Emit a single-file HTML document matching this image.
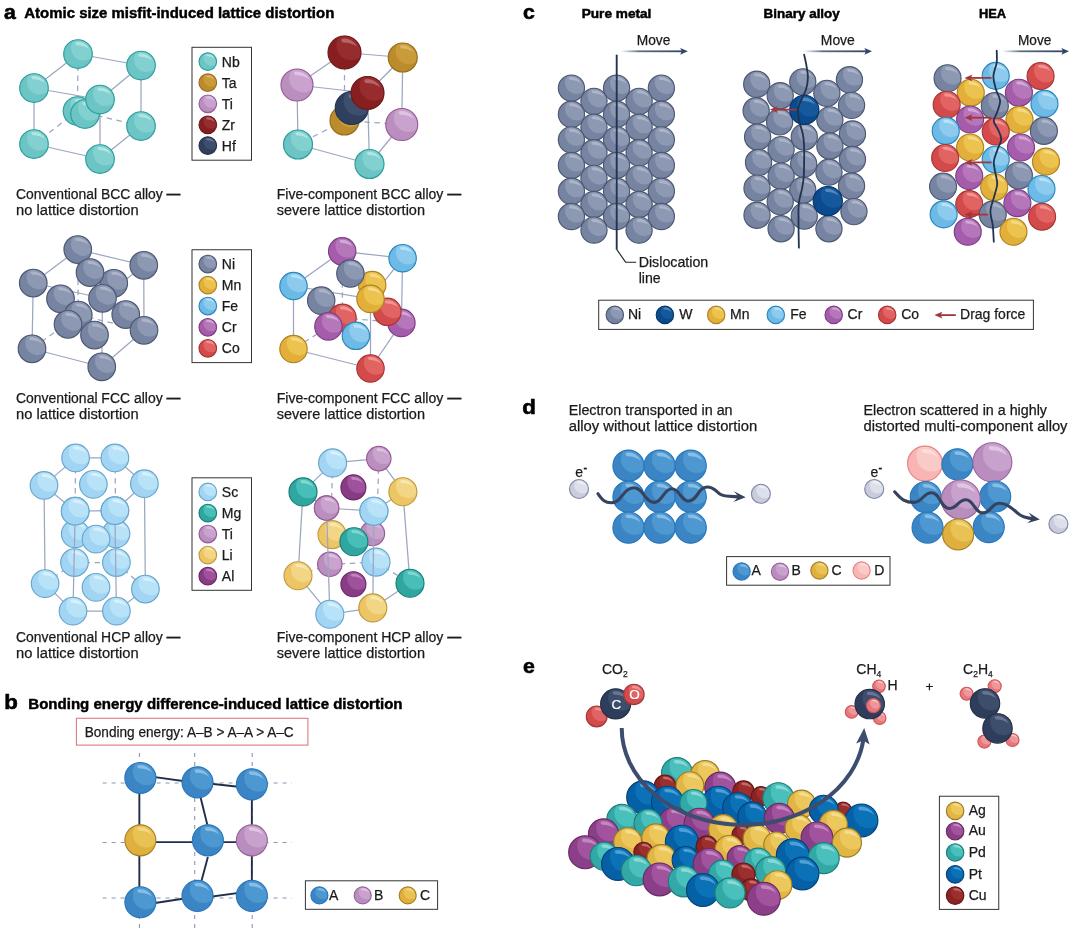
<!DOCTYPE html>
<html lang="en"><head><meta charset="utf-8"><title>Lattice distortion in high-entropy alloys</title>
<style>
html,body{margin:0;padding:0;background:#fff}
svg{display:block;font-family:"Liberation Sans",sans-serif}
</style></head><body>
<svg width="1080" height="931" viewBox="0 0 1080 931">
<defs>
<g id="aNb"><circle r="1" fill="#6CC4C4"/><path d="M-0.312 -0.950 A1 1 0 0 1 0.970 0.243 A0.880 0.880 0 0 1 -0.312 -0.950 Z" fill="#82D0CF"/><path d="M-0.160 -0.825 A0.84 0.84 0 0 1 0.767 -0.342 Q0.420 -0.620 -0.094 -0.613 Q-0.250 -0.709 -0.160 -0.825 Z" fill="#C5ECEA" opacity=".7"/><circle r="1" fill="none" stroke="#2A9E9E" stroke-width="1.15" vector-effect="non-scaling-stroke"/></g>
<g id="aTa"><circle r="1" fill="#BC8B2C"/><path d="M-0.312 -0.950 A1 1 0 0 1 0.970 0.243 A0.880 0.880 0 0 1 -0.312 -0.950 Z" fill="#C99B3B"/><path d="M-0.160 -0.825 A0.84 0.84 0 0 1 0.767 -0.342 Q0.420 -0.620 -0.094 -0.613 Q-0.250 -0.709 -0.160 -0.825 Z" fill="#E3C27E" opacity=".7"/><circle r="1" fill="none" stroke="#986C1B" stroke-width="1.15" vector-effect="non-scaling-stroke"/></g>
<g id="aTi"><circle r="1" fill="#BA8FBF"/><path d="M-0.312 -0.950 A1 1 0 0 1 0.970 0.243 A0.880 0.880 0 0 1 -0.312 -0.950 Z" fill="#C9A3CE"/><path d="M-0.160 -0.825 A0.84 0.84 0 0 1 0.767 -0.342 Q0.420 -0.620 -0.094 -0.613 Q-0.250 -0.709 -0.160 -0.825 Z" fill="#E6D2E8" opacity=".7"/><circle r="1" fill="none" stroke="#975A97" stroke-width="1.15" vector-effect="non-scaling-stroke"/></g>
<g id="aZr"><circle r="1" fill="#871F21"/><path d="M-0.312 -0.950 A1 1 0 0 1 0.970 0.243 A0.880 0.880 0 0 1 -0.312 -0.950 Z" fill="#972C2E"/><path d="M-0.160 -0.825 A0.84 0.84 0 0 1 0.767 -0.342 Q0.420 -0.620 -0.094 -0.613 Q-0.250 -0.709 -0.160 -0.825 Z" fill="#C57C7D" opacity=".7"/><circle r="1" fill="none" stroke="#6D181A" stroke-width="1.15" vector-effect="non-scaling-stroke"/></g>
<g id="aHf"><circle r="1" fill="#2F3F5E"/><path d="M-0.312 -0.950 A1 1 0 0 1 0.970 0.243 A0.880 0.880 0 0 1 -0.312 -0.950 Z" fill="#3E4F6E"/><path d="M-0.160 -0.825 A0.84 0.84 0 0 1 0.767 -0.342 Q0.420 -0.620 -0.094 -0.613 Q-0.250 -0.709 -0.160 -0.825 Z" fill="#7D8AA3" opacity=".7"/><circle r="1" fill="none" stroke="#25324C" stroke-width="1.15" vector-effect="non-scaling-stroke"/></g>
<g id="aNi"><circle r="1" fill="#7784A1"/><path d="M-0.312 -0.950 A1 1 0 0 1 0.970 0.243 A0.880 0.880 0 0 1 -0.312 -0.950 Z" fill="#8D98B3"/><path d="M-0.160 -0.825 A0.84 0.84 0 0 1 0.767 -0.342 Q0.420 -0.620 -0.094 -0.613 Q-0.250 -0.709 -0.160 -0.825 Z" fill="#B9C0D2" opacity=".7"/><circle r="1" fill="none" stroke="#4C5872" stroke-width="1.15" vector-effect="non-scaling-stroke"/></g>
<g id="aMn"><circle r="1" fill="#E2B03A"/><path d="M-0.312 -0.950 A1 1 0 0 1 0.970 0.243 A0.880 0.880 0 0 1 -0.312 -0.950 Z" fill="#EDC350"/><path d="M-0.160 -0.825 A0.84 0.84 0 0 1 0.767 -0.342 Q0.420 -0.620 -0.094 -0.613 Q-0.250 -0.709 -0.160 -0.825 Z" fill="#F8E2A0" opacity=".7"/><circle r="1" fill="none" stroke="#AE8325" stroke-width="1.15" vector-effect="non-scaling-stroke"/></g>
<g id="aFe"><circle r="1" fill="#6DBAE6"/><path d="M-0.312 -0.950 A1 1 0 0 1 0.970 0.243 A0.880 0.880 0 0 1 -0.312 -0.950 Z" fill="#8CCBEE"/><path d="M-0.160 -0.825 A0.84 0.84 0 0 1 0.767 -0.342 Q0.420 -0.620 -0.094 -0.613 Q-0.250 -0.709 -0.160 -0.825 Z" fill="#CDEAF9" opacity=".7"/><circle r="1" fill="none" stroke="#2987BD" stroke-width="1.15" vector-effect="non-scaling-stroke"/></g>
<g id="aCr"><circle r="1" fill="#A55CAB"/><path d="M-0.312 -0.950 A1 1 0 0 1 0.970 0.243 A0.880 0.880 0 0 1 -0.312 -0.950 Z" fill="#B577BA"/><path d="M-0.160 -0.825 A0.84 0.84 0 0 1 0.767 -0.342 Q0.420 -0.620 -0.094 -0.613 Q-0.250 -0.709 -0.160 -0.825 Z" fill="#DDBCE0" opacity=".7"/><circle r="1" fill="none" stroke="#7E3E83" stroke-width="1.15" vector-effect="non-scaling-stroke"/></g>
<g id="aCo"><circle r="1" fill="#D24A4A"/><path d="M-0.312 -0.950 A1 1 0 0 1 0.970 0.243 A0.880 0.880 0 0 1 -0.312 -0.950 Z" fill="#E16463"/><path d="M-0.160 -0.825 A0.84 0.84 0 0 1 0.767 -0.342 Q0.420 -0.620 -0.094 -0.613 Q-0.250 -0.709 -0.160 -0.825 Z" fill="#F3ABAA" opacity=".7"/><circle r="1" fill="none" stroke="#A93535" stroke-width="1.15" vector-effect="non-scaling-stroke"/></g>
<g id="aSc"><circle r="1" fill="#A2D5F3"/><path d="M-0.312 -0.950 A1 1 0 0 1 0.970 0.243 A0.880 0.880 0 0 1 -0.312 -0.950 Z" fill="#B8E2F8"/><path d="M-0.160 -0.825 A0.84 0.84 0 0 1 0.767 -0.342 Q0.420 -0.620 -0.094 -0.613 Q-0.250 -0.709 -0.160 -0.825 Z" fill="#E6F5FD" opacity=".7"/><circle r="1" fill="none" stroke="#68A6CD" stroke-width="1.15" vector-effect="non-scaling-stroke"/></g>
<g id="aMg"><circle r="1" fill="#2FA7A0"/><path d="M-0.312 -0.950 A1 1 0 0 1 0.970 0.243 A0.880 0.880 0 0 1 -0.312 -0.950 Z" fill="#47BFB8"/><path d="M-0.160 -0.825 A0.84 0.84 0 0 1 0.767 -0.342 Q0.420 -0.620 -0.094 -0.613 Q-0.250 -0.709 -0.160 -0.825 Z" fill="#9FE0DB" opacity=".7"/><circle r="1" fill="none" stroke="#197D77" stroke-width="1.15" vector-effect="non-scaling-stroke"/></g>
<g id="aLi"><circle r="1" fill="#ECC565"/><path d="M-0.312 -0.950 A1 1 0 0 1 0.970 0.243 A0.880 0.880 0 0 1 -0.312 -0.950 Z" fill="#F3D685"/><path d="M-0.160 -0.825 A0.84 0.84 0 0 1 0.767 -0.342 Q0.420 -0.620 -0.094 -0.613 Q-0.250 -0.709 -0.160 -0.825 Z" fill="#FBEDC2" opacity=".7"/><circle r="1" fill="none" stroke="#C09940" stroke-width="1.15" vector-effect="non-scaling-stroke"/></g>
<g id="aAl"><circle r="1" fill="#873C85"/><path d="M-0.312 -0.950 A1 1 0 0 1 0.970 0.243 A0.880 0.880 0 0 1 -0.312 -0.950 Z" fill="#9F519C"/><path d="M-0.160 -0.825 A0.84 0.84 0 0 1 0.767 -0.342 Q0.420 -0.620 -0.094 -0.613 Q-0.250 -0.709 -0.160 -0.825 Z" fill="#CD9CCB" opacity=".7"/><circle r="1" fill="none" stroke="#6B2969" stroke-width="1.15" vector-effect="non-scaling-stroke"/></g>
<g id="aW"><circle r="1" fill="#0B4A8C"/><path d="M-0.312 -0.950 A1 1 0 0 1 0.970 0.243 A0.880 0.880 0 0 1 -0.312 -0.950 Z" fill="#15589C"/><path d="M-0.160 -0.825 A0.84 0.84 0 0 1 0.767 -0.342 Q0.420 -0.620 -0.094 -0.613 Q-0.250 -0.709 -0.160 -0.825 Z" fill="#6E9CCB" opacity=".7"/><circle r="1" fill="none" stroke="#07366C" stroke-width="1.15" vector-effect="non-scaling-stroke"/></g>
<g id="aA"><circle r="1" fill="#3C85C5"/><path d="M-0.312 -0.950 A1 1 0 0 1 0.970 0.243 A0.880 0.880 0 0 1 -0.312 -0.950 Z" fill="#4E98D1"/><path d="M-0.160 -0.825 A0.84 0.84 0 0 1 0.767 -0.342 Q0.420 -0.620 -0.094 -0.613 Q-0.250 -0.709 -0.160 -0.825 Z" fill="#A3CDEC" opacity=".7"/><circle r="1" fill="none" stroke="#2877BC" stroke-width="1.15" vector-effect="non-scaling-stroke"/></g>
<g id="aB"><circle r="1" fill="#B98EBE"/><path d="M-0.312 -0.950 A1 1 0 0 1 0.970 0.243 A0.880 0.880 0 0 1 -0.312 -0.950 Z" fill="#C8A2CD"/><path d="M-0.160 -0.825 A0.84 0.84 0 0 1 0.767 -0.342 Q0.420 -0.620 -0.094 -0.613 Q-0.250 -0.709 -0.160 -0.825 Z" fill="#E8D5EA" opacity=".7"/><circle r="1" fill="none" stroke="#98659C" stroke-width="1.15" vector-effect="non-scaling-stroke"/></g>
<g id="aC"><circle r="1" fill="#DFB03D"/><path d="M-0.312 -0.950 A1 1 0 0 1 0.970 0.243 A0.880 0.880 0 0 1 -0.312 -0.950 Z" fill="#E9C254"/><path d="M-0.160 -0.825 A0.84 0.84 0 0 1 0.767 -0.342 Q0.420 -0.620 -0.094 -0.613 Q-0.250 -0.709 -0.160 -0.825 Z" fill="#F6E0A0" opacity=".7"/><circle r="1" fill="none" stroke="#A68026" stroke-width="1.15" vector-effect="non-scaling-stroke"/></g>
<g id="aD"><circle r="1" fill="#F8B5B3"/><path d="M-0.312 -0.950 A1 1 0 0 1 0.970 0.243 A0.880 0.880 0 0 1 -0.312 -0.950 Z" fill="#FACAC7"/><path d="M-0.160 -0.825 A0.84 0.84 0 0 1 0.767 -0.342 Q0.420 -0.620 -0.094 -0.613 Q-0.250 -0.709 -0.160 -0.825 Z" fill="#FDE6E5" opacity=".7"/><circle r="1" fill="none" stroke="#E88482" stroke-width="1.15" vector-effect="non-scaling-stroke"/></g>
<g id="aEl"><circle r="1" fill="#C9CDDB"/><path d="M-0.312 -0.950 A1 1 0 0 1 0.970 0.243 A0.880 0.880 0 0 1 -0.312 -0.950 Z" fill="#DDE0EA"/><path d="M-0.160 -0.825 A0.84 0.84 0 0 1 0.767 -0.342 Q0.420 -0.620 -0.094 -0.613 Q-0.250 -0.709 -0.160 -0.825 Z" fill="#F4F5F9" opacity=".7"/><circle r="1" fill="none" stroke="#7E88A8" stroke-width="1.15" vector-effect="non-scaling-stroke"/></g>
<g id="aAg"><circle r="1" fill="#E2B645"/><path d="M-0.312 -0.950 A1 1 0 0 1 0.970 0.243 A0.880 0.880 0 0 1 -0.312 -0.950 Z" fill="#ECC75B"/><path d="M-0.160 -0.825 A0.84 0.84 0 0 1 0.767 -0.342 Q0.420 -0.620 -0.094 -0.613 Q-0.250 -0.709 -0.160 -0.825 Z" fill="#F8E5A8" opacity=".7"/><circle r="1" fill="none" stroke="#9E7C26" stroke-width="1.15" vector-effect="non-scaling-stroke"/></g>
<g id="aAu"><circle r="1" fill="#8B3F88"/><path d="M-0.312 -0.950 A1 1 0 0 1 0.970 0.243 A0.880 0.880 0 0 1 -0.312 -0.950 Z" fill="#A1539D"/><path d="M-0.160 -0.825 A0.84 0.84 0 0 1 0.767 -0.342 Q0.420 -0.620 -0.094 -0.613 Q-0.250 -0.709 -0.160 -0.825 Z" fill="#CFA0CC" opacity=".7"/><circle r="1" fill="none" stroke="#682B63" stroke-width="1.15" vector-effect="non-scaling-stroke"/></g>
<g id="aPd"><circle r="1" fill="#32A9A6"/><path d="M-0.312 -0.950 A1 1 0 0 1 0.970 0.243 A0.880 0.880 0 0 1 -0.312 -0.950 Z" fill="#4AC0BC"/><path d="M-0.160 -0.825 A0.84 0.84 0 0 1 0.767 -0.342 Q0.420 -0.620 -0.094 -0.613 Q-0.250 -0.709 -0.160 -0.825 Z" fill="#A6E3E0" opacity=".7"/><circle r="1" fill="none" stroke="#1B7E7C" stroke-width="1.15" vector-effect="non-scaling-stroke"/></g>
<g id="aPt"><circle r="1" fill="#0560A6"/><path d="M-0.312 -0.950 A1 1 0 0 1 0.970 0.243 A0.880 0.880 0 0 1 -0.312 -0.950 Z" fill="#0B72B8"/><path d="M-0.160 -0.825 A0.84 0.84 0 0 1 0.767 -0.342 Q0.420 -0.620 -0.094 -0.613 Q-0.250 -0.709 -0.160 -0.825 Z" fill="#6FB1DE" opacity=".7"/><circle r="1" fill="none" stroke="#04417C" stroke-width="1.15" vector-effect="non-scaling-stroke"/></g>
<g id="aCu"><circle r="1" fill="#8A2323"/><path d="M-0.312 -0.950 A1 1 0 0 1 0.970 0.243 A0.880 0.880 0 0 1 -0.312 -0.950 Z" fill="#9C2E2E"/><path d="M-0.160 -0.825 A0.84 0.84 0 0 1 0.767 -0.342 Q0.420 -0.620 -0.094 -0.613 Q-0.250 -0.709 -0.160 -0.825 Z" fill="#CF8A88" opacity=".7"/><circle r="1" fill="none" stroke="#631717" stroke-width="1.15" vector-effect="non-scaling-stroke"/></g>
<g id="aCb"><circle r="1" fill="#2E3D5B"/><path d="M-0.312 -0.950 A1 1 0 0 1 0.970 0.243 A0.880 0.880 0 0 1 -0.312 -0.950 Z" fill="#3D4D6C"/><path d="M-0.160 -0.825 A0.84 0.84 0 0 1 0.767 -0.342 Q0.420 -0.620 -0.094 -0.613 Q-0.250 -0.709 -0.160 -0.825 Z" fill="#7A88A2" opacity=".7"/><circle r="1" fill="none" stroke="#243047" stroke-width="1.15" vector-effect="non-scaling-stroke"/></g>
<g id="aO"><circle r="1" fill="#D24B4D"/><path d="M-0.312 -0.950 A1 1 0 0 1 0.970 0.243 A0.880 0.880 0 0 1 -0.312 -0.950 Z" fill="#E06465"/><path d="M-0.160 -0.825 A0.84 0.84 0 0 1 0.767 -0.342 Q0.420 -0.620 -0.094 -0.613 Q-0.250 -0.709 -0.160 -0.825 Z" fill="#F2A9A9" opacity=".7"/><circle r="1" fill="none" stroke="#A63637" stroke-width="1.15" vector-effect="non-scaling-stroke"/></g>
<g id="aHy"><circle r="1" fill="#E5787D"/><path d="M-0.312 -0.950 A1 1 0 0 1 0.970 0.243 A0.880 0.880 0 0 1 -0.312 -0.950 Z" fill="#EE979A"/><path d="M-0.160 -0.825 A0.84 0.84 0 0 1 0.767 -0.342 Q0.420 -0.620 -0.094 -0.613 Q-0.250 -0.709 -0.160 -0.825 Z" fill="#FBDADB" opacity=".7"/><circle r="1" fill="none" stroke="#D4545A" stroke-width="1.15" vector-effect="non-scaling-stroke"/></g>
<linearGradient id="mv" x1="0" y1="0" x2="1" y2="0"><stop offset="0" stop-color="#33466A" stop-opacity="0"/><stop offset="0.3" stop-color="#33466A" stop-opacity=".8"/><stop offset="1" stop-color="#33466A"/></linearGradient>
</defs>
<g id="panel-a">
<text x="4.00" y="19.20" font-size="20" fill="#000" font-weight="bold" textLength="11.80" lengthAdjust="spacingAndGlyphs" stroke="#000" stroke-width="0.6">a</text>
<text x="24.30" y="18.00" font-size="14.8" fill="#000" font-weight="bold" textLength="310.00" lengthAdjust="spacingAndGlyphs" stroke="#000" stroke-width="0.45">Atomic size misfit-induced lattice distortion</text>
<line x1="77.50" y1="111.00" x2="78.00" y2="54.00" stroke="#9CA6C0" stroke-width="1.25" stroke-dasharray="5.5 4.5"/>
<line x1="77.50" y1="111.00" x2="34.00" y2="144.00" stroke="#9CA6C0" stroke-width="1.25" stroke-dasharray="5.5 4.5"/>
<line x1="77.50" y1="111.00" x2="141.00" y2="126.00" stroke="#9CA6C0" stroke-width="1.25" stroke-dasharray="5.5 4.5"/>
<line x1="78.00" y1="54.00" x2="141.00" y2="65.50" stroke="#9CA6C0" stroke-width="1.25"/>
<line x1="78.00" y1="54.00" x2="34.00" y2="88.00" stroke="#9CA6C0" stroke-width="1.25"/>
<line x1="34.00" y1="88.00" x2="100.00" y2="99.50" stroke="#9CA6C0" stroke-width="1.25"/>
<line x1="141.00" y1="65.50" x2="100.00" y2="99.50" stroke="#9CA6C0" stroke-width="1.25"/>
<line x1="34.00" y1="88.00" x2="34.00" y2="144.00" stroke="#9CA6C0" stroke-width="1.25"/>
<line x1="100.00" y1="99.50" x2="100.00" y2="159.00" stroke="#9CA6C0" stroke-width="1.25"/>
<line x1="141.00" y1="65.50" x2="141.00" y2="126.00" stroke="#9CA6C0" stroke-width="1.25"/>
<line x1="34.00" y1="144.00" x2="100.00" y2="159.00" stroke="#9CA6C0" stroke-width="1.25"/>
<line x1="100.00" y1="159.00" x2="141.00" y2="126.00" stroke="#9CA6C0" stroke-width="1.25"/>
<use href="#aNb" transform="translate(77.50 111.00) scale(14.30)"/>
<use href="#aNb" transform="translate(85.00 114.00) scale(14.30)"/>
<use href="#aNb" transform="translate(78.00 54.00) scale(14.30)"/>
<use href="#aNb" transform="translate(141.00 65.50) scale(14.30)"/>
<use href="#aNb" transform="translate(141.00 126.00) scale(14.30)"/>
<use href="#aNb" transform="translate(34.00 88.00) scale(14.30)"/>
<use href="#aNb" transform="translate(100.00 99.50) scale(14.30)"/>
<use href="#aNb" transform="translate(34.00 144.00) scale(14.30)"/>
<use href="#aNb" transform="translate(100.00 159.00) scale(14.30)"/>
<line x1="344.50" y1="120.50" x2="344.50" y2="52.50" stroke="#9CA6C0" stroke-width="1.25" stroke-dasharray="5.5 4.5"/>
<line x1="344.50" y1="120.50" x2="298.00" y2="144.50" stroke="#9CA6C0" stroke-width="1.25" stroke-dasharray="5.5 4.5"/>
<line x1="344.50" y1="120.50" x2="401.75" y2="124.50" stroke="#9CA6C0" stroke-width="1.25" stroke-dasharray="5.5 4.5"/>
<line x1="344.50" y1="52.50" x2="402.75" y2="57.50" stroke="#9CA6C0" stroke-width="1.25"/>
<line x1="344.50" y1="52.50" x2="297.00" y2="85.00" stroke="#9CA6C0" stroke-width="1.25"/>
<line x1="297.00" y1="85.00" x2="367.50" y2="93.00" stroke="#9CA6C0" stroke-width="1.25"/>
<line x1="402.75" y1="57.50" x2="367.50" y2="93.00" stroke="#9CA6C0" stroke-width="1.25"/>
<line x1="297.00" y1="85.00" x2="298.00" y2="144.50" stroke="#9CA6C0" stroke-width="1.25"/>
<line x1="367.50" y1="93.00" x2="369.50" y2="164.00" stroke="#9CA6C0" stroke-width="1.25"/>
<line x1="402.75" y1="57.50" x2="401.75" y2="124.50" stroke="#9CA6C0" stroke-width="1.25"/>
<line x1="298.00" y1="144.50" x2="369.50" y2="164.00" stroke="#9CA6C0" stroke-width="1.25"/>
<line x1="369.50" y1="164.00" x2="401.75" y2="124.50" stroke="#9CA6C0" stroke-width="1.25"/>
<use href="#aTa" transform="translate(344.50 120.50) scale(14.50)"/>
<use href="#aHf" transform="translate(351.75 108.00) scale(16.50)"/>
<use href="#aZr" transform="translate(344.50 52.50) scale(16.50)"/>
<use href="#aTa" transform="translate(402.75 57.50) scale(14.50)"/>
<use href="#aTi" transform="translate(401.75 124.50) scale(16.00)"/>
<use href="#aTi" transform="translate(297.00 85.00) scale(16.00)"/>
<use href="#aZr" transform="translate(367.50 93.00) scale(16.50)"/>
<use href="#aNb" transform="translate(298.00 144.50) scale(14.50)"/>
<use href="#aNb" transform="translate(369.50 164.00) scale(14.50)"/>
<line x1="78.25" y1="315.00" x2="77.75" y2="249.50" stroke="#9CA6C0" stroke-width="1.25" stroke-dasharray="5.5 4.5"/>
<line x1="78.25" y1="315.00" x2="32.00" y2="348.75" stroke="#9CA6C0" stroke-width="1.25" stroke-dasharray="5.5 4.5"/>
<line x1="78.25" y1="315.00" x2="144.00" y2="330.25" stroke="#9CA6C0" stroke-width="1.25" stroke-dasharray="5.5 4.5"/>
<line x1="77.75" y1="249.50" x2="143.75" y2="265.25" stroke="#9CA6C0" stroke-width="1.25"/>
<line x1="77.75" y1="249.50" x2="33.25" y2="283.00" stroke="#9CA6C0" stroke-width="1.25"/>
<line x1="33.25" y1="283.00" x2="102.50" y2="298.25" stroke="#9CA6C0" stroke-width="1.25"/>
<line x1="143.75" y1="265.25" x2="102.50" y2="298.25" stroke="#9CA6C0" stroke-width="1.25"/>
<line x1="33.25" y1="283.00" x2="32.00" y2="348.75" stroke="#9CA6C0" stroke-width="1.25"/>
<line x1="102.50" y1="298.25" x2="101.75" y2="366.75" stroke="#9CA6C0" stroke-width="1.25"/>
<line x1="143.75" y1="265.25" x2="144.00" y2="330.25" stroke="#9CA6C0" stroke-width="1.25"/>
<line x1="32.00" y1="348.75" x2="101.75" y2="366.75" stroke="#9CA6C0" stroke-width="1.25"/>
<line x1="101.75" y1="366.75" x2="144.00" y2="330.25" stroke="#9CA6C0" stroke-width="1.25"/>
<use href="#aNi" transform="translate(77.75 249.50) scale(13.80)"/>
<use href="#aNi" transform="translate(113.75 283.25) scale(13.80)"/>
<use href="#aNi" transform="translate(60.50 298.75) scale(13.80)"/>
<use href="#aNi" transform="translate(78.25 315.00) scale(13.80)"/>
<use href="#aNi" transform="translate(90.00 272.50) scale(13.80)"/>
<use href="#aNi" transform="translate(143.75 265.25) scale(13.80)"/>
<use href="#aNi" transform="translate(125.75 314.50) scale(13.80)"/>
<use href="#aNi" transform="translate(144.00 330.25) scale(13.80)"/>
<use href="#aNi" transform="translate(102.50 298.25) scale(13.80)"/>
<use href="#aNi" transform="translate(94.50 335.00) scale(13.80)"/>
<use href="#aNi" transform="translate(68.00 324.25) scale(13.80)"/>
<use href="#aNi" transform="translate(33.25 283.00) scale(13.80)"/>
<use href="#aNi" transform="translate(32.00 348.75) scale(13.80)"/>
<use href="#aNi" transform="translate(101.75 366.75) scale(13.80)"/>
<line x1="342.50" y1="317.80" x2="342.20" y2="251.30" stroke="#9CA6C0" stroke-width="1.25" stroke-dasharray="5.5 4.5"/>
<line x1="342.50" y1="317.80" x2="293.50" y2="349.00" stroke="#9CA6C0" stroke-width="1.25" stroke-dasharray="5.5 4.5"/>
<line x1="342.50" y1="317.80" x2="401.40" y2="322.90" stroke="#9CA6C0" stroke-width="1.25" stroke-dasharray="5.5 4.5"/>
<line x1="342.20" y1="251.30" x2="402.60" y2="258.20" stroke="#9CA6C0" stroke-width="1.25"/>
<line x1="342.20" y1="251.30" x2="293.50" y2="286.00" stroke="#9CA6C0" stroke-width="1.25"/>
<line x1="293.50" y1="286.00" x2="370.50" y2="298.90" stroke="#9CA6C0" stroke-width="1.25"/>
<line x1="402.60" y1="258.20" x2="370.50" y2="298.90" stroke="#9CA6C0" stroke-width="1.25"/>
<line x1="293.50" y1="286.00" x2="293.50" y2="349.00" stroke="#9CA6C0" stroke-width="1.25"/>
<line x1="370.50" y1="298.90" x2="370.50" y2="368.50" stroke="#9CA6C0" stroke-width="1.25"/>
<line x1="402.60" y1="258.20" x2="401.40" y2="322.90" stroke="#9CA6C0" stroke-width="1.25"/>
<line x1="293.50" y1="349.00" x2="370.50" y2="368.50" stroke="#9CA6C0" stroke-width="1.25"/>
<line x1="370.50" y1="368.50" x2="401.40" y2="322.90" stroke="#9CA6C0" stroke-width="1.25"/>
<use href="#aCr" transform="translate(342.20 251.30) scale(13.70)"/>
<use href="#aMn" transform="translate(372.20 285.10) scale(13.70)"/>
<use href="#aNi" transform="translate(321.20 300.60) scale(13.70)"/>
<use href="#aCo" transform="translate(342.50 317.80) scale(13.70)"/>
<use href="#aNi" transform="translate(350.40 273.50) scale(13.70)"/>
<use href="#aFe" transform="translate(402.60 258.20) scale(13.70)"/>
<use href="#aCr" transform="translate(401.40 322.90) scale(13.70)"/>
<use href="#aCo" transform="translate(387.40 311.80) scale(13.70)"/>
<use href="#aMn" transform="translate(370.50 298.90) scale(13.70)"/>
<use href="#aFe" transform="translate(355.90 335.80) scale(13.70)"/>
<use href="#aCr" transform="translate(328.40 326.40) scale(13.70)"/>
<use href="#aFe" transform="translate(293.50 286.00) scale(13.70)"/>
<use href="#aMn" transform="translate(293.50 349.00) scale(13.70)"/>
<use href="#aCo" transform="translate(370.50 368.50) scale(13.70)"/>
<line x1="75.60" y1="457.90" x2="74.50" y2="562.50" stroke="#9CA6C0" stroke-width="1.25" stroke-dasharray="5.5 4.5"/>
<line x1="114.90" y1="457.90" x2="116.40" y2="562.50" stroke="#9CA6C0" stroke-width="1.25" stroke-dasharray="5.5 4.5"/>
<line x1="45.10" y1="583.60" x2="74.50" y2="562.50" stroke="#9CA6C0" stroke-width="1.25" stroke-dasharray="5.5 4.5"/>
<line x1="74.50" y1="562.50" x2="116.40" y2="562.50" stroke="#9CA6C0" stroke-width="1.25" stroke-dasharray="5.5 4.5"/>
<line x1="116.40" y1="562.50" x2="145.40" y2="589.00" stroke="#9CA6C0" stroke-width="1.25" stroke-dasharray="5.5 4.5"/>
<line x1="75.60" y1="457.90" x2="114.90" y2="457.90" stroke="#9CA6C0" stroke-width="1.25"/>
<line x1="114.90" y1="457.90" x2="144.40" y2="483.70" stroke="#9CA6C0" stroke-width="1.25"/>
<line x1="144.40" y1="483.70" x2="114.90" y2="510.60" stroke="#9CA6C0" stroke-width="1.25"/>
<line x1="114.90" y1="510.60" x2="75.20" y2="511.20" stroke="#9CA6C0" stroke-width="1.25"/>
<line x1="75.20" y1="511.20" x2="44.00" y2="485.40" stroke="#9CA6C0" stroke-width="1.25"/>
<line x1="44.00" y1="485.40" x2="75.60" y2="457.90" stroke="#9CA6C0" stroke-width="1.25"/>
<line x1="44.00" y1="485.40" x2="45.10" y2="583.60" stroke="#9CA6C0" stroke-width="1.25"/>
<line x1="144.40" y1="483.70" x2="145.40" y2="589.00" stroke="#9CA6C0" stroke-width="1.25"/>
<line x1="45.10" y1="583.60" x2="73.00" y2="611.10" stroke="#9CA6C0" stroke-width="1.25"/>
<line x1="73.00" y1="611.10" x2="116.40" y2="611.10" stroke="#9CA6C0" stroke-width="1.25"/>
<line x1="116.40" y1="611.10" x2="145.40" y2="589.00" stroke="#9CA6C0" stroke-width="1.25"/>
<use href="#aSc" transform="translate(75.60 457.90) scale(13.80)"/>
<use href="#aSc" transform="translate(114.90 457.90) scale(13.80)"/>
<use href="#aSc" transform="translate(93.40 484.30) scale(13.80)"/>
<use href="#aSc" transform="translate(44.00 485.40) scale(13.80)"/>
<use href="#aSc" transform="translate(144.40 483.70) scale(13.80)"/>
<use href="#aSc" transform="translate(75.20 533.80) scale(13.80)"/>
<use href="#aSc" transform="translate(116.00 533.80) scale(13.80)"/>
<use href="#aSc" transform="translate(74.50 562.50) scale(13.80)"/>
<use href="#aSc" transform="translate(116.40 562.50) scale(13.80)"/>
<use href="#aSc" transform="translate(96.00 587.30) scale(13.80)"/>
<use href="#aSc" transform="translate(96.00 539.10) scale(13.80)"/>
<use href="#aSc" transform="translate(75.20 511.20) scale(13.80)"/>
<use href="#aSc" transform="translate(114.90 510.60) scale(13.80)"/>
<use href="#aSc" transform="translate(45.10 583.60) scale(13.80)"/>
<use href="#aSc" transform="translate(145.40 589.00) scale(13.80)"/>
<line x1="75.20" y1="511.20" x2="73.00" y2="611.10" stroke="#9CA6C0" stroke-width="1.25"/>
<line x1="114.90" y1="510.60" x2="116.40" y2="611.10" stroke="#9CA6C0" stroke-width="1.25"/>
<use href="#aSc" transform="translate(75.20 511.20) scale(13.80)"/>
<use href="#aSc" transform="translate(114.90 510.60) scale(13.80)"/>
<use href="#aSc" transform="translate(73.00 611.10) scale(13.80)"/>
<use href="#aSc" transform="translate(116.40 611.10) scale(13.80)"/>
<line x1="332.60" y1="462.90" x2="329.80" y2="564.30" stroke="#9CA6C0" stroke-width="1.25" stroke-dasharray="5.5 4.5"/>
<line x1="378.80" y1="458.60" x2="376.00" y2="562.10" stroke="#9CA6C0" stroke-width="1.25" stroke-dasharray="5.5 4.5"/>
<line x1="298.00" y1="575.70" x2="329.80" y2="564.30" stroke="#9CA6C0" stroke-width="1.25" stroke-dasharray="5.5 4.5"/>
<line x1="329.80" y1="564.30" x2="376.00" y2="562.10" stroke="#9CA6C0" stroke-width="1.25" stroke-dasharray="5.5 4.5"/>
<line x1="376.00" y1="562.10" x2="410.00" y2="583.20" stroke="#9CA6C0" stroke-width="1.25" stroke-dasharray="5.5 4.5"/>
<line x1="332.60" y1="462.90" x2="378.80" y2="458.60" stroke="#9CA6C0" stroke-width="1.25"/>
<line x1="378.80" y1="458.60" x2="402.90" y2="491.70" stroke="#9CA6C0" stroke-width="1.25"/>
<line x1="402.90" y1="491.70" x2="373.90" y2="511.20" stroke="#9CA6C0" stroke-width="1.25"/>
<line x1="373.90" y1="511.20" x2="326.60" y2="508.00" stroke="#9CA6C0" stroke-width="1.25"/>
<line x1="326.60" y1="508.00" x2="303.00" y2="491.90" stroke="#9CA6C0" stroke-width="1.25"/>
<line x1="303.00" y1="491.90" x2="332.60" y2="462.90" stroke="#9CA6C0" stroke-width="1.25"/>
<line x1="303.00" y1="491.90" x2="298.00" y2="575.70" stroke="#9CA6C0" stroke-width="1.25"/>
<line x1="402.90" y1="491.70" x2="410.00" y2="583.20" stroke="#9CA6C0" stroke-width="1.25"/>
<line x1="298.00" y1="575.70" x2="329.80" y2="614.30" stroke="#9CA6C0" stroke-width="1.25"/>
<line x1="329.80" y1="614.30" x2="372.80" y2="607.90" stroke="#9CA6C0" stroke-width="1.25"/>
<line x1="372.80" y1="607.90" x2="410.00" y2="583.20" stroke="#9CA6C0" stroke-width="1.25"/>
<use href="#aSc" transform="translate(332.60 462.90) scale(14.00)"/>
<use href="#aTi" transform="translate(378.80 458.60) scale(12.20)"/>
<use href="#aAl" transform="translate(353.40 487.40) scale(12.50)"/>
<use href="#aMg" transform="translate(303.00 491.90) scale(14.00)"/>
<use href="#aLi" transform="translate(402.90 491.70) scale(14.00)"/>
<use href="#aLi" transform="translate(332.00 534.60) scale(14.00)"/>
<use href="#aTi" transform="translate(372.40 533.50) scale(12.20)"/>
<use href="#aTi" transform="translate(329.80 564.30) scale(12.20)"/>
<use href="#aSc" transform="translate(376.00 562.10) scale(14.00)"/>
<use href="#aAl" transform="translate(353.40 584.20) scale(12.50)"/>
<use href="#aMg" transform="translate(353.90 541.70) scale(14.00)"/>
<use href="#aTi" transform="translate(326.60 508.00) scale(12.20)"/>
<use href="#aSc" transform="translate(373.90 511.20) scale(14.00)"/>
<use href="#aLi" transform="translate(298.00 575.70) scale(14.00)"/>
<use href="#aMg" transform="translate(410.00 583.20) scale(14.00)"/>
<line x1="326.60" y1="508.00" x2="329.80" y2="614.30" stroke="#9CA6C0" stroke-width="1.25"/>
<line x1="373.90" y1="511.20" x2="372.80" y2="607.90" stroke="#9CA6C0" stroke-width="1.25"/>
<use href="#aTi" transform="translate(326.60 508.00) scale(12.20)"/>
<use href="#aSc" transform="translate(373.90 511.20) scale(14.00)"/>
<use href="#aSc" transform="translate(329.80 614.30) scale(14.00)"/>
<use href="#aLi" transform="translate(372.80 607.90) scale(14.00)"/>
<rect x="192.00" y="47.30" width="59.50" height="112.90" fill="none" stroke="#333" stroke-width="1"/>
<use href="#aNb" transform="translate(207.80 61.60) scale(8.80)"/>
<text x="221.80" y="66.60" font-size="14" fill="#1a1a1a" stroke="#1a1a1a" stroke-width="0.25">Nb</text>
<use href="#aTa" transform="translate(207.80 82.70) scale(8.80)"/>
<text x="221.80" y="87.70" font-size="14" fill="#1a1a1a" stroke="#1a1a1a" stroke-width="0.25">Ta</text>
<use href="#aTi" transform="translate(207.80 103.80) scale(8.80)"/>
<text x="221.80" y="108.80" font-size="14" fill="#1a1a1a" stroke="#1a1a1a" stroke-width="0.25">Ti</text>
<use href="#aZr" transform="translate(207.80 124.80) scale(8.80)"/>
<text x="221.80" y="129.80" font-size="14" fill="#1a1a1a" stroke="#1a1a1a" stroke-width="0.25">Zr</text>
<use href="#aHf" transform="translate(207.80 145.60) scale(8.80)"/>
<text x="221.80" y="150.60" font-size="14" fill="#1a1a1a" stroke="#1a1a1a" stroke-width="0.25">Hf</text>
<rect x="192.00" y="249.75" width="59.50" height="112.85" fill="none" stroke="#333" stroke-width="1"/>
<use href="#aNi" transform="translate(207.80 264.00) scale(8.80)"/>
<text x="221.80" y="269.00" font-size="14" fill="#1a1a1a" stroke="#1a1a1a" stroke-width="0.25">Ni</text>
<use href="#aMn" transform="translate(207.80 285.10) scale(8.80)"/>
<text x="221.80" y="290.10" font-size="14" fill="#1a1a1a" stroke="#1a1a1a" stroke-width="0.25">Mn</text>
<use href="#aFe" transform="translate(207.80 306.00) scale(8.80)"/>
<text x="221.80" y="311.00" font-size="14" fill="#1a1a1a" stroke="#1a1a1a" stroke-width="0.25">Fe</text>
<use href="#aCr" transform="translate(207.80 327.30) scale(8.80)"/>
<text x="221.80" y="332.30" font-size="14" fill="#1a1a1a" stroke="#1a1a1a" stroke-width="0.25">Cr</text>
<use href="#aCo" transform="translate(207.80 348.30) scale(8.80)"/>
<text x="221.80" y="353.30" font-size="14" fill="#1a1a1a" stroke="#1a1a1a" stroke-width="0.25">Co</text>
<rect x="192.00" y="477.80" width="59.50" height="112.50" fill="none" stroke="#333" stroke-width="1"/>
<use href="#aSc" transform="translate(207.80 491.90) scale(8.80)"/>
<text x="221.80" y="496.90" font-size="14" fill="#1a1a1a" stroke="#1a1a1a" stroke-width="0.25">Sc</text>
<use href="#aMg" transform="translate(207.80 513.10) scale(8.80)"/>
<text x="221.80" y="518.10" font-size="14" fill="#1a1a1a" stroke="#1a1a1a" stroke-width="0.25">Mg</text>
<use href="#aTi" transform="translate(207.80 534.00) scale(8.80)"/>
<text x="221.80" y="539.00" font-size="14" fill="#1a1a1a" stroke="#1a1a1a" stroke-width="0.25">Ti</text>
<use href="#aLi" transform="translate(207.80 555.10) scale(8.80)"/>
<text x="221.80" y="560.10" font-size="14" fill="#1a1a1a" stroke="#1a1a1a" stroke-width="0.25">Li</text>
<use href="#aAl" transform="translate(207.80 576.20) scale(8.80)"/>
<text x="221.80" y="581.20" font-size="14" fill="#1a1a1a" stroke="#1a1a1a" stroke-width="0.25">Al</text>
<text x="16.00" y="199.20" font-size="14" fill="#1a1a1a" textLength="164.50" lengthAdjust="spacingAndGlyphs" stroke="#1a1a1a" stroke-width="0.25">Conventional BCC alloy <tspan font-weight="bold">—</tspan></text>
<text x="16.00" y="215.30" font-size="14" fill="#1a1a1a" textLength="122.75" lengthAdjust="spacingAndGlyphs" stroke="#1a1a1a" stroke-width="0.25">no lattice distortion</text>
<text x="276.75" y="199.20" font-size="14" fill="#1a1a1a" textLength="184.50" lengthAdjust="spacingAndGlyphs" stroke="#1a1a1a" stroke-width="0.25">Five-component BCC alloy <tspan font-weight="bold">—</tspan></text>
<text x="276.75" y="215.30" font-size="14" fill="#1a1a1a" textLength="148.25" lengthAdjust="spacingAndGlyphs" stroke="#1a1a1a" stroke-width="0.25">severe lattice distortion</text>
<text x="16.00" y="403.20" font-size="14" fill="#1a1a1a" textLength="164.50" lengthAdjust="spacingAndGlyphs" stroke="#1a1a1a" stroke-width="0.25">Conventional FCC alloy <tspan font-weight="bold">—</tspan></text>
<text x="16.00" y="418.80" font-size="14" fill="#1a1a1a" textLength="122.75" lengthAdjust="spacingAndGlyphs" stroke="#1a1a1a" stroke-width="0.25">no lattice distortion</text>
<text x="276.75" y="403.20" font-size="14" fill="#1a1a1a" textLength="184.50" lengthAdjust="spacingAndGlyphs" stroke="#1a1a1a" stroke-width="0.25">Five-component FCC alloy <tspan font-weight="bold">—</tspan></text>
<text x="276.75" y="418.80" font-size="14" fill="#1a1a1a" textLength="148.25" lengthAdjust="spacingAndGlyphs" stroke="#1a1a1a" stroke-width="0.25">severe lattice distortion</text>
<text x="16.00" y="642.30" font-size="14" fill="#1a1a1a" textLength="164.50" lengthAdjust="spacingAndGlyphs" stroke="#1a1a1a" stroke-width="0.25">Conventional HCP alloy <tspan font-weight="bold">—</tspan></text>
<text x="16.00" y="658.30" font-size="14" fill="#1a1a1a" textLength="122.75" lengthAdjust="spacingAndGlyphs" stroke="#1a1a1a" stroke-width="0.25">no lattice distortion</text>
<text x="276.75" y="642.30" font-size="14" fill="#1a1a1a" textLength="184.50" lengthAdjust="spacingAndGlyphs" stroke="#1a1a1a" stroke-width="0.25">Five-component HCP alloy <tspan font-weight="bold">—</tspan></text>
<text x="276.75" y="658.30" font-size="14" fill="#1a1a1a" textLength="148.25" lengthAdjust="spacingAndGlyphs" stroke="#1a1a1a" stroke-width="0.25">severe lattice distortion</text>
</g>
<g id="panel-b">
<text x="4.20" y="709.20" font-size="20.4" fill="#000" font-weight="bold" textLength="13.60" lengthAdjust="spacingAndGlyphs" stroke="#000" stroke-width="0.6">b</text>
<text x="28.30" y="708.90" font-size="14.8" fill="#000" font-weight="bold" textLength="374.20" lengthAdjust="spacingAndGlyphs" stroke="#000" stroke-width="0.45">Bonding energy difference-induced lattice distortion</text>
<rect x="76.40" y="718.30" width="231.50" height="26.80" fill="none" stroke="#DE7A82" stroke-width="1.1"/>
<text x="84.70" y="736.60" font-size="14" fill="#1a1a1a" textLength="209.00" lengthAdjust="spacingAndGlyphs" stroke="#1a1a1a" stroke-width="0.25">Bonding energy: A–B &gt; A–A &gt; A–C</text>
<line x1="139.40" y1="753.00" x2="139.40" y2="931.00" stroke="#8A96B2" stroke-width="1.1" stroke-dasharray="4 5"/>
<line x1="194.70" y1="753.00" x2="194.70" y2="931.00" stroke="#8A96B2" stroke-width="1.1" stroke-dasharray="4 5"/>
<line x1="252.20" y1="753.00" x2="252.20" y2="931.00" stroke="#8A96B2" stroke-width="1.1" stroke-dasharray="4 5"/>
<line x1="102.60" y1="783.00" x2="292.00" y2="783.00" stroke="#8A96B2" stroke-width="1.1" stroke-dasharray="4 5"/>
<line x1="102.60" y1="842.50" x2="292.00" y2="842.50" stroke="#8A96B2" stroke-width="1.1" stroke-dasharray="4 5"/>
<line x1="102.60" y1="898.00" x2="292.00" y2="898.00" stroke="#8A96B2" stroke-width="1.1" stroke-dasharray="4 5"/>
<line x1="140.36" y1="775.17" x2="197.50" y2="782.96" stroke="#1F2F4B" stroke-width="1.9"/>
<line x1="197.50" y1="782.26" x2="251.85" y2="788.26" stroke="#1F2F4B" stroke-width="1.9"/>
<line x1="197.50" y1="784.96" x2="207.89" y2="826.92" stroke="#1F2F4B" stroke-width="1.9"/>
<line x1="207.89" y1="856.89" x2="197.50" y2="895.85" stroke="#1F2F4B" stroke-width="1.9"/>
<line x1="140.36" y1="905.24" x2="197.50" y2="896.55" stroke="#1F2F4B" stroke-width="1.9"/>
<line x1="197.50" y1="898.45" x2="251.85" y2="891.16" stroke="#1F2F4B" stroke-width="1.9"/>
<line x1="139.36" y1="777.97" x2="139.36" y2="902.25" stroke="#1F2F4B" stroke-width="1.9"/>
<line x1="251.85" y1="784.36" x2="251.85" y2="895.85" stroke="#1F2F4B" stroke-width="1.9"/>
<line x1="140.36" y1="842.11" x2="251.85" y2="842.11" stroke="#1F2F4B" stroke-width="1.9"/>
<use href="#aA" transform="translate(140.36 777.97) scale(15.50)"/>
<use href="#aA" transform="translate(197.50 782.36) scale(15.50)"/>
<use href="#aA" transform="translate(251.85 784.36) scale(15.50)"/>
<use href="#aC" transform="translate(140.36 840.31) scale(15.50)"/>
<use href="#aA" transform="translate(207.89 840.31) scale(15.50)"/>
<use href="#aB" transform="translate(251.85 840.31) scale(15.50)"/>
<use href="#aA" transform="translate(140.36 902.25) scale(15.50)"/>
<use href="#aA" transform="translate(197.50 895.85) scale(15.50)"/>
<use href="#aA" transform="translate(251.85 895.85) scale(15.50)"/>
<rect x="305.40" y="880.80" width="132.20" height="28.50" fill="none" stroke="#333" stroke-width="1"/>
<use href="#aA" transform="translate(319.40 895.40) scale(8.50)"/>
<text x="329.00" y="899.80" font-size="14" fill="#1a1a1a" stroke="#1a1a1a" stroke-width="0.25">A</text>
<use href="#aB" transform="translate(362.70 895.40) scale(8.50)"/>
<text x="374.00" y="899.80" font-size="14" fill="#1a1a1a" stroke="#1a1a1a" stroke-width="0.25">B</text>
<use href="#aC" transform="translate(407.70 895.40) scale(8.50)"/>
<text x="420.00" y="899.80" font-size="14" fill="#1a1a1a" stroke="#1a1a1a" stroke-width="0.25">C</text>
</g>
<g id="panel-c">
<text x="523.00" y="19.20" font-size="20" fill="#000" font-weight="bold" textLength="11.80" lengthAdjust="spacingAndGlyphs" stroke="#000" stroke-width="0.6">c</text>
<text x="581.70" y="18.10" font-size="13.6" fill="#000" font-weight="bold" textLength="69.70" lengthAdjust="spacingAndGlyphs" stroke="#000" stroke-width="0.5">Pure metal</text>
<text x="763.60" y="18.10" font-size="13.6" fill="#000" font-weight="bold" textLength="76.20" lengthAdjust="spacingAndGlyphs" stroke="#000" stroke-width="0.5">Binary alloy</text>
<text x="978.90" y="18.10" font-size="13.6" fill="#000" font-weight="bold" textLength="27.10" lengthAdjust="spacingAndGlyphs" stroke="#000" stroke-width="0.5">HEA</text>
<use href="#aNi" transform="translate(571.43 88.12) scale(13.10)"/>
<use href="#aNi" transform="translate(616.54 88.12) scale(13.10)"/>
<use href="#aNi" transform="translate(661.35 88.12) scale(13.10)"/>
<use href="#aNi" transform="translate(593.98 101.35) scale(13.10)"/>
<use href="#aNi" transform="translate(639.10 101.35) scale(13.10)"/>
<use href="#aNi" transform="translate(571.43 114.29) scale(13.10)"/>
<use href="#aNi" transform="translate(616.54 114.29) scale(13.10)"/>
<use href="#aNi" transform="translate(661.35 114.29) scale(13.10)"/>
<use href="#aNi" transform="translate(593.98 127.22) scale(13.10)"/>
<use href="#aNi" transform="translate(639.10 127.22) scale(13.10)"/>
<use href="#aNi" transform="translate(571.43 139.85) scale(13.10)"/>
<use href="#aNi" transform="translate(616.54 139.85) scale(13.10)"/>
<use href="#aNi" transform="translate(661.35 139.85) scale(13.10)"/>
<use href="#aNi" transform="translate(593.98 152.78) scale(13.10)"/>
<use href="#aNi" transform="translate(639.10 152.78) scale(13.10)"/>
<use href="#aNi" transform="translate(571.43 165.41) scale(13.10)"/>
<use href="#aNi" transform="translate(616.54 165.41) scale(13.10)"/>
<use href="#aNi" transform="translate(661.35 165.41) scale(13.10)"/>
<use href="#aNi" transform="translate(593.98 178.35) scale(13.10)"/>
<use href="#aNi" transform="translate(639.10 178.35) scale(13.10)"/>
<use href="#aNi" transform="translate(571.43 191.28) scale(13.10)"/>
<use href="#aNi" transform="translate(616.54 191.28) scale(13.10)"/>
<use href="#aNi" transform="translate(661.35 191.28) scale(13.10)"/>
<use href="#aNi" transform="translate(593.98 204.51) scale(13.10)"/>
<use href="#aNi" transform="translate(639.10 204.51) scale(13.10)"/>
<use href="#aNi" transform="translate(571.43 216.54) scale(13.10)"/>
<use href="#aNi" transform="translate(616.54 216.54) scale(13.10)"/>
<use href="#aNi" transform="translate(661.35 216.54) scale(13.10)"/>
<use href="#aNi" transform="translate(593.98 230.08) scale(13.10)"/>
<use href="#aNi" transform="translate(639.10 230.08) scale(13.10)"/>
<line x1="616.70" y1="54.70" x2="616.70" y2="249.60" stroke="#22334F" stroke-width="1.9"/>
<path d="M616.7 249.4 L625.4 261.9 Q625.6 262.2 626.2 262.2 L636.1 262.2" fill="none" stroke="#222" stroke-width="1.1"/>
<text x="636.70" y="44.80" font-size="14" fill="#1a1a1a" textLength="33.60" lengthAdjust="spacingAndGlyphs" stroke="#1a1a1a" stroke-width="0.25">Move</text>
<rect x="620.8" y="50.40" width="62.0" height="1.8" fill="url(#mv)"/>
<path d="M687.8 51.3 L680.2 47.9 L681.7 51.3 L680.2 54.7 Z" fill="#33466A" stroke="none" stroke-width="1.0"/>
<text x="638.70" y="267.20" font-size="14" fill="#1a1a1a" textLength="69.60" lengthAdjust="spacingAndGlyphs" stroke="#1a1a1a" stroke-width="0.25">Dislocation</text>
<text x="638.70" y="282.80" font-size="14" fill="#1a1a1a" textLength="22.00" lengthAdjust="spacingAndGlyphs" stroke="#1a1a1a" stroke-width="0.25">line</text>
<use href="#aNi" transform="translate(849.43 79.77) scale(13.10)"/>
<use href="#aNi" transform="translate(802.78 81.87) scale(13.10)"/>
<use href="#aNi" transform="translate(756.72 84.28) scale(13.10)"/>
<use href="#aNi" transform="translate(826.86 93.31) scale(13.10)"/>
<use href="#aNi" transform="translate(780.20 95.72) scale(13.10)"/>
<use href="#aNi" transform="translate(851.54 105.35) scale(13.10)"/>
<use href="#aNi" transform="translate(756.12 110.77) scale(13.10)"/>
<use href="#aNi" transform="translate(829.87 119.80) scale(13.10)"/>
<use href="#aNi" transform="translate(779.60 121.91) scale(13.10)"/>
<use href="#aNi" transform="translate(852.44 133.95) scale(13.10)"/>
<use href="#aNi" transform="translate(757.63 136.96) scale(13.10)"/>
<use href="#aNi" transform="translate(804.28 136.96) scale(13.10)"/>
<use href="#aNi" transform="translate(829.87 145.99) scale(13.10)"/>
<use href="#aNi" transform="translate(781.10 149.60) scale(13.10)"/>
<use href="#aNi" transform="translate(852.44 159.53) scale(13.10)"/>
<use href="#aNi" transform="translate(758.53 162.54) scale(13.10)"/>
<use href="#aNi" transform="translate(803.68 164.05) scale(13.10)"/>
<use href="#aNi" transform="translate(828.96 172.17) scale(13.10)"/>
<use href="#aNi" transform="translate(781.10 176.09) scale(13.10)"/>
<use href="#aNi" transform="translate(851.54 186.02) scale(13.10)"/>
<use href="#aNi" transform="translate(757.02 188.13) scale(13.10)"/>
<use href="#aNi" transform="translate(802.78 190.23) scale(13.10)"/>
<use href="#aNi" transform="translate(780.20 201.67) scale(13.10)"/>
<use href="#aNi" transform="translate(853.95 211.61) scale(13.10)"/>
<use href="#aNi" transform="translate(757.02 215.22) scale(13.10)"/>
<use href="#aNi" transform="translate(804.28 216.12) scale(13.10)"/>
<use href="#aNi" transform="translate(781.10 228.76) scale(13.10)"/>
<use href="#aNi" transform="translate(828.96 228.76) scale(13.10)"/>
<use href="#aW" transform="translate(804.28 109.87) scale(14.60)"/>
<use href="#aW" transform="translate(827.76 201.07) scale(14.60)"/>
<line x1="796.60" y1="109.60" x2="773.90" y2="109.60" stroke="#A2363B" stroke-width="1.8"/>
<path d="M769.9 109.6 L777.9 106.2 L776.1 109.6 L777.9 113.0 Z" fill="#A2363B" stroke="none" stroke-width="1.0"/>
<path d="M804.1 54.6 C804.5 56.5 805.9 62.1 806.5 66.0 C807.1 69.9 808.0 73.9 807.9 77.8 C807.8 81.7 807.2 85.7 806.0 89.6 C804.8 93.5 802.0 97.9 800.6 101.4 C799.2 104.9 798.0 107.3 797.8 110.8 C797.6 114.3 798.8 118.7 799.6 122.6 C800.5 126.5 802.1 130.5 802.9 134.4 C803.6 138.3 803.9 141.5 804.1 146.2 C804.3 150.9 804.2 157.6 804.1 162.7 C804.0 167.8 804.1 172.6 803.7 176.9 C803.4 181.2 802.8 184.4 802.0 188.7 C801.2 193.0 799.5 197.7 798.9 202.8 C798.3 207.9 798.5 211.9 798.5 219.4 C798.5 226.9 798.8 243.0 798.9 247.7" fill="none" stroke="#22334F" stroke-width="1.8" stroke-linecap="round"/>
<text x="820.80" y="44.80" font-size="14" fill="#1a1a1a" textLength="34.00" lengthAdjust="spacingAndGlyphs" stroke="#1a1a1a" stroke-width="0.25">Move</text>
<rect x="803.7" y="50.40" width="63.3" height="1.8" fill="url(#mv)"/>
<path d="M872.0 51.3 L864.4 47.9 L865.9 51.3 L864.4 54.7 Z" fill="#33466A" stroke="none" stroke-width="1.0"/>
<use href="#aFe" transform="translate(995.72 75.85) scale(13.50)"/>
<use href="#aCo" transform="translate(1040.57 76.15) scale(13.50)"/>
<use href="#aNi" transform="translate(947.56 78.26) scale(13.50)"/>
<use href="#aMn" transform="translate(970.74 92.71) scale(13.50)"/>
<use href="#aCr" transform="translate(1018.90 92.71) scale(13.50)"/>
<use href="#aFe" transform="translate(1044.48 103.85) scale(13.50)"/>
<use href="#aCo" transform="translate(946.66 104.75) scale(13.50)"/>
<use href="#aNi" transform="translate(994.82 105.95) scale(13.50)"/>
<use href="#aCr" transform="translate(970.13 119.50) scale(13.50)"/>
<use href="#aMn" transform="translate(1019.50 119.80) scale(13.50)"/>
<use href="#aFe" transform="translate(945.75 130.94) scale(13.50)"/>
<use href="#aNi" transform="translate(1043.88 130.94) scale(13.50)"/>
<use href="#aCo" transform="translate(995.72 131.54) scale(13.50)"/>
<use href="#aMn" transform="translate(970.13 147.49) scale(13.50)"/>
<use href="#aCr" transform="translate(1021.00 147.49) scale(13.50)"/>
<use href="#aCo" transform="translate(945.15 158.03) scale(13.50)"/>
<use href="#aFe" transform="translate(995.72 159.53) scale(13.50)"/>
<use href="#aMn" transform="translate(1045.99 161.64) scale(13.50)"/>
<use href="#aNi" transform="translate(1018.90 175.48) scale(13.50)"/>
<use href="#aCr" transform="translate(969.23 176.09) scale(13.50)"/>
<use href="#aNi" transform="translate(943.04 186.62) scale(13.50)"/>
<use href="#aMn" transform="translate(994.21 187.22) scale(13.50)"/>
<use href="#aFe" transform="translate(1041.47 189.03) scale(13.50)"/>
<use href="#aCr" transform="translate(1017.39 203.18) scale(13.50)"/>
<use href="#aCo" transform="translate(969.23 204.08) scale(13.50)"/>
<use href="#aFe" transform="translate(943.65 214.31) scale(13.50)"/>
<use href="#aNi" transform="translate(992.71 214.62) scale(13.50)"/>
<use href="#aCo" transform="translate(1042.07 216.72) scale(13.50)"/>
<use href="#aCr" transform="translate(967.73 231.77) scale(13.50)"/>
<use href="#aMn" transform="translate(1013.48 231.77) scale(13.50)"/>
<line x1="991.50" y1="77.90" x2="968.50" y2="77.90" stroke="#A2363B" stroke-width="1.8"/>
<path d="M964.5 77.9 L972.5 74.5 L970.7 77.9 L972.5 81.3 Z" fill="#A2363B" stroke="none" stroke-width="1.0"/>
<line x1="991.50" y1="117.70" x2="968.50" y2="117.70" stroke="#A2363B" stroke-width="1.8"/>
<path d="M964.5 117.7 L972.5 114.3 L970.7 117.7 L972.5 121.1 Z" fill="#A2363B" stroke="none" stroke-width="1.0"/>
<line x1="991.50" y1="162.40" x2="968.50" y2="162.40" stroke="#A2363B" stroke-width="1.8"/>
<path d="M964.5 162.4 L972.5 159.0 L970.7 162.4 L972.5 165.8 Z" fill="#A2363B" stroke="none" stroke-width="1.0"/>
<line x1="988.20" y1="214.60" x2="968.50" y2="214.60" stroke="#A2363B" stroke-width="1.8"/>
<path d="M964.5 214.6 L972.5 211.2 L970.7 214.6 L972.5 218.0 Z" fill="#A2363B" stroke="none" stroke-width="1.0"/>
<path d="M996.7 50.6 C996.7 52.6 997.2 58.3 996.7 62.5 C996.2 66.7 993.5 71.5 993.4 76.0 C993.3 80.5 994.9 85.5 996.0 89.6 C997.1 93.7 999.9 97.0 1000.1 100.8 C1000.3 104.5 998.2 108.7 997.2 112.1 C996.2 115.5 993.6 118.1 993.8 121.1 C994.0 124.1 997.1 127.1 998.3 130.1 C999.5 133.1 1001.4 135.8 1001.2 139.2 C1001.0 142.6 998.4 146.7 997.2 150.4 C996.0 154.2 994.1 157.9 993.8 161.7 C993.5 165.5 994.8 169.2 995.4 173.0 C996.0 176.8 997.5 180.1 997.2 184.2 C996.9 188.3 994.9 193.2 993.8 197.7 C992.7 202.2 990.6 206.8 990.4 211.3 C990.2 215.8 992.1 219.7 992.7 224.8 C993.3 229.9 993.6 238.9 993.8 241.7" fill="none" stroke="#22334F" stroke-width="1.8" stroke-linecap="round"/>
<text x="1018.00" y="44.80" font-size="14" fill="#1a1a1a" textLength="33.30" lengthAdjust="spacingAndGlyphs" stroke="#1a1a1a" stroke-width="0.25">Move</text>
<rect x="1002.3" y="50.40" width="61.7" height="1.8" fill="url(#mv)"/>
<path d="M1069.0 51.3 L1061.4 47.9 L1062.9 51.3 L1061.4 54.7 Z" fill="#33466A" stroke="none" stroke-width="1.0"/>
<rect x="598.70" y="300.20" width="434.70" height="29.20" fill="none" stroke="#333" stroke-width="1"/>
<use href="#aNi" transform="translate(614.80 314.90) scale(8.70)"/>
<text x="627.90" y="319.10" font-size="14" fill="#1a1a1a" stroke="#1a1a1a" stroke-width="0.25">Ni</text>
<use href="#aW" transform="translate(664.90 314.90) scale(8.70)"/>
<text x="679.20" y="319.10" font-size="14" fill="#1a1a1a" stroke="#1a1a1a" stroke-width="0.25">W</text>
<use href="#aMn" transform="translate(716.20 314.90) scale(8.70)"/>
<text x="730.10" y="319.10" font-size="14" fill="#1a1a1a" stroke="#1a1a1a" stroke-width="0.25">Mn</text>
<use href="#aFe" transform="translate(775.80 314.90) scale(8.70)"/>
<text x="790.20" y="319.10" font-size="14" fill="#1a1a1a" stroke="#1a1a1a" stroke-width="0.25">Fe</text>
<use href="#aCr" transform="translate(833.70 314.90) scale(8.70)"/>
<text x="847.60" y="319.10" font-size="14" fill="#1a1a1a" stroke="#1a1a1a" stroke-width="0.25">Cr</text>
<use href="#aCo" transform="translate(887.20 314.90) scale(8.70)"/>
<text x="901.20" y="319.10" font-size="14" fill="#1a1a1a" stroke="#1a1a1a" stroke-width="0.25">Co</text>
<line x1="955.80" y1="315.10" x2="938.40" y2="315.10" stroke="#A2363B" stroke-width="1.8"/>
<path d="M934.4 315.1 L942.4 311.7 L940.6 315.1 L942.4 318.5 Z" fill="#A2363B" stroke="none" stroke-width="1.0"/>
<text x="960.10" y="319.10" font-size="14" fill="#1a1a1a" textLength="65.20" lengthAdjust="spacingAndGlyphs" stroke="#1a1a1a" stroke-width="0.25">Drag force</text>
</g>
<g id="panel-d">
<text x="522.30" y="413.80" font-size="20.4" fill="#000" font-weight="bold" textLength="13.60" lengthAdjust="spacingAndGlyphs" stroke="#000" stroke-width="0.6">d</text>
<text x="568.70" y="414.80" font-size="14" fill="#1a1a1a" textLength="163.90" lengthAdjust="spacingAndGlyphs" stroke="#1a1a1a" stroke-width="0.25">Electron transported in an</text>
<text x="568.70" y="431.10" font-size="14" fill="#1a1a1a" textLength="188.50" lengthAdjust="spacingAndGlyphs" stroke="#1a1a1a" stroke-width="0.25">alloy without lattice distortion</text>
<text x="863.50" y="414.80" font-size="14" fill="#1a1a1a" textLength="183.50" lengthAdjust="spacingAndGlyphs" stroke="#1a1a1a" stroke-width="0.25">Electron scattered in a highly</text>
<text x="863.50" y="431.10" font-size="14" fill="#1a1a1a" textLength="204.00" lengthAdjust="spacingAndGlyphs" stroke="#1a1a1a" stroke-width="0.25">distorted multi-component alloy</text>
<g transform="translate(0 0.8)">
<use href="#aA" transform="translate(628.50 464.90) scale(15.60)"/>
<use href="#aA" transform="translate(659.60 464.90) scale(15.60)"/>
<use href="#aA" transform="translate(690.70 464.90) scale(15.60)"/>
<use href="#aA" transform="translate(628.50 496.00) scale(15.60)"/>
<use href="#aA" transform="translate(659.60 496.00) scale(15.60)"/>
<use href="#aA" transform="translate(690.70 496.00) scale(15.60)"/>
<use href="#aA" transform="translate(628.50 526.80) scale(15.60)"/>
<use href="#aA" transform="translate(659.60 526.80) scale(15.60)"/>
<use href="#aA" transform="translate(690.70 526.80) scale(15.60)"/>
<use href="#aEl" transform="translate(579.00 488.20) scale(9.50)"/>
<use href="#aEl" transform="translate(760.90 493.00) scale(9.50)"/>
<text x="575.3" y="475.8" font-size="14" fill="#1a1a1a" stroke="#1a1a1a" stroke-width=".25">e<tspan dy="-5.2" dx="0.3" font-size="11" font-weight="bold">-</tspan></text>
<text x="870.5" y="475.8" font-size="14" fill="#1a1a1a" stroke="#1a1a1a" stroke-width=".25">e<tspan dy="-5.2" dx="0.3" font-size="11" font-weight="bold">-</tspan></text>
<path d="M597.9 492.9 C602.5 499.7 605.2 502.0 611.1 502.0 C622.1 502.0 623.0 487.0 634.0 487.0 C643.7 487.0 644.5 501.6 654.2 501.6 C662.6 501.6 663.4 487.9 671.8 487.9 C679.8 487.9 680.5 500.2 688.5 500.2 C697.4 500.2 698.1 486.2 707.0 486.2 C714.2 486.2 716.3 491.0 720.2 493.5 S730.7 495.6 739.7 496.1" fill="none" stroke="#35435F" stroke-width="3.1" stroke-linecap="round" stroke-linejoin="round"/>
<path d="M745.7 496.4 L733.4 501.2 L738.5 496.0 L734.0 490.4 Z" fill="#35435F" stroke="none" stroke-width="1.0"/>
<use href="#aD" transform="translate(924.96 462.78) scale(17.40)"/>
<use href="#aA" transform="translate(957.37 463.56) scale(15.50)"/>
<use href="#aB" transform="translate(992.37 461.48) scale(19.50)"/>
<use href="#aA" transform="translate(925.74 496.22) scale(15.50)"/>
<use href="#aA" transform="translate(995.22 495.70) scale(15.50)"/>
<use href="#aB" transform="translate(960.74 498.69) scale(19.50)"/>
<use href="#aA" transform="translate(927.56 526.81) scale(15.50)"/>
<use href="#aA" transform="translate(988.74 526.30) scale(15.50)"/>
<use href="#aC" transform="translate(958.15 533.69) scale(15.50)"/>
<use href="#aEl" transform="translate(874.20 488.20) scale(9.50)"/>
<use href="#aEl" transform="translate(1058.40 523.20) scale(9.50)"/>
<path d="M894.7 491.0 C901.5 499.0 905.3 501.6 914.0 501.6 C922.4 501.6 923.2 491.9 931.6 491.9 C940.0 491.9 940.8 507.7 949.2 507.7 C957.2 507.7 957.9 498.9 965.9 498.9 C973.9 498.9 974.6 512.1 982.6 512.1 C990.7 512.1 991.3 502.5 999.4 502.5 C1007.0 502.5 1012.9 507.9 1017.0 511.8 S1024.9 516.8 1033.9 518.0" fill="none" stroke="#35435F" stroke-width="3.1" stroke-linecap="round" stroke-linejoin="round"/>
<path d="M1039.8 518.8 L1027.2 522.5 L1032.7 517.8 L1028.6 511.8 Z" fill="#35435F" stroke="none" stroke-width="1.0"/>
</g>
<rect x="726.60" y="556.60" width="163.40" height="28.60" fill="none" stroke="#333" stroke-width="1"/>
<use href="#aA" transform="translate(741.60 571.50) scale(8.60)"/>
<text x="751.60" y="574.90" font-size="14" fill="#1a1a1a" stroke="#1a1a1a" stroke-width="0.25">A</text>
<use href="#aB" transform="translate(780.00 571.70) scale(8.60)"/>
<text x="791.50" y="574.90" font-size="14" fill="#1a1a1a" stroke="#1a1a1a" stroke-width="0.25">B</text>
<use href="#aC" transform="translate(819.40 570.50) scale(8.60)"/>
<text x="831.60" y="574.90" font-size="14" fill="#1a1a1a" stroke="#1a1a1a" stroke-width="0.25">C</text>
<use href="#aD" transform="translate(861.60 570.50) scale(8.60)"/>
<text x="874.20" y="574.90" font-size="14" fill="#1a1a1a" stroke="#1a1a1a" stroke-width="0.25">D</text>
</g>
<g id="panel-e">
<text x="523.00" y="673.40" font-size="20" fill="#000" font-weight="bold" textLength="11.80" lengthAdjust="spacingAndGlyphs" stroke="#000" stroke-width="0.6">e</text>
<use href="#aPd" transform="translate(676.97 773.07) scale(15.47)"/>
<use href="#aAg" transform="translate(705.01 775.00) scale(14.50)"/>
<use href="#aCu" transform="translate(664.98 785.63) scale(10.63)"/>
<use href="#aAg" transform="translate(689.92 785.63) scale(13.92)"/>
<use href="#aAu" transform="translate(720.30 787.57) scale(15.47)"/>
<use href="#aCu" transform="translate(743.50 791.44) scale(10.63)"/>
<use href="#aCu" transform="translate(760.90 796.27) scale(9.67)"/>
<use href="#aPt" transform="translate(643.14 797.24) scale(16.43)"/>
<use href="#aPd" transform="translate(778.30 798.20) scale(15.47)"/>
<use href="#aPt" transform="translate(667.30 802.07) scale(15.85)"/>
<use href="#aPt" transform="translate(718.37 802.07) scale(15.85)"/>
<use href="#aPd" transform="translate(693.40 803.04) scale(13.53)"/>
<use href="#aAg" transform="translate(801.50 804.00) scale(13.92)"/>
<use href="#aPt" transform="translate(737.70 807.87) scale(15.08)"/>
<use href="#aCu" transform="translate(843.07 810.77) scale(8.70)"/>
<use href="#aPt" transform="translate(823.74 809.80) scale(14.50)"/>
<use href="#aPt" transform="translate(752.20 816.57) scale(14.50)"/>
<use href="#aAu" transform="translate(779.27 818.50) scale(15.08)"/>
<use href="#aPd" transform="translate(621.87 819.47) scale(15.08)"/>
<use href="#aPt" transform="translate(861.44 820.44) scale(16.43)"/>
<use href="#aAu" transform="translate(674.07 822.37) scale(15.08)"/>
<use href="#aPd" transform="translate(647.97 823.34) scale(13.92)"/>
<use href="#aAu" transform="translate(699.21 823.34) scale(15.08)"/>
<use href="#aAg" transform="translate(833.40 824.30) scale(13.92)"/>
<use href="#aAg" transform="translate(798.60 828.17) scale(13.53)"/>
<use href="#aAg" transform="translate(723.20 829.14) scale(14.50)"/>
<use href="#aCu" transform="translate(741.57 834.94) scale(9.67)"/>
<use href="#aAu" transform="translate(603.50 833.97) scale(15.08)"/>
<use href="#aAg" transform="translate(655.70 837.84) scale(13.92)"/>
<use href="#aAu" transform="translate(816.97 837.84) scale(15.85)"/>
<use href="#aAg" transform="translate(757.04 838.80) scale(13.92)"/>
<use href="#aAg" transform="translate(627.67 841.70) scale(13.92)"/>
<use href="#aPt" transform="translate(681.80 841.70) scale(16.43)"/>
<use href="#aAg" transform="translate(846.94 842.67) scale(14.50)"/>
<use href="#aAg" transform="translate(776.37 844.60) scale(12.57)"/>
<use href="#aCu" transform="translate(706.77 846.54) scale(10.63)"/>
<use href="#aAg" transform="translate(729.00 849.44) scale(13.92)"/>
<use href="#aCu" transform="translate(643.52 851.95) scale(9.67)"/>
<use href="#aAu" transform="translate(585.13 852.34) scale(16.43)"/>
<use href="#aPt" transform="translate(792.80 855.24) scale(16.43)"/>
<use href="#aPd" transform="translate(604.08 856.20) scale(13.92)"/>
<use href="#aAu" transform="translate(739.63 858.14) scale(12.57)"/>
<use href="#aPd" transform="translate(823.74 858.14) scale(15.47)"/>
<use href="#aAg" transform="translate(661.50 859.10) scale(14.50)"/>
<use href="#aPt" transform="translate(685.67 860.07) scale(13.53)"/>
<use href="#aPd" transform="translate(758.00 862.00) scale(13.92)"/>
<use href="#aAu" transform="translate(708.70 863.94) scale(15.47)"/>
<use href="#aPt" transform="translate(618.00 863.94) scale(16.43)"/>
<use href="#aPd" transform="translate(636.37 870.70) scale(15.08)"/>
<use href="#aPd" transform="translate(770.57 871.67) scale(15.08)"/>
<use href="#aPd" transform="translate(722.23 873.60) scale(13.53)"/>
<use href="#aCu" transform="translate(743.50 874.57) scale(11.60)"/>
<use href="#aPt" transform="translate(802.47 873.60) scale(16.43)"/>
<use href="#aAu" transform="translate(659.57 879.40) scale(16.43)"/>
<use href="#aPd" transform="translate(683.74 881.34) scale(15.47)"/>
<use href="#aAg" transform="translate(777.34 885.21) scale(14.50)"/>
<use href="#aCu" transform="translate(751.24 890.04) scale(11.21)"/>
<use href="#aPt" transform="translate(702.90 890.04) scale(16.43)"/>
<use href="#aPd" transform="translate(729.97 892.94) scale(15.08)"/>
<use href="#aAu" transform="translate(763.80 898.74) scale(16.43)"/>
<use href="#aO" transform="translate(596.70 716.40) scale(10.40)"/>
<use href="#aCb" transform="translate(615.60 703.90) scale(15.00)"/>
<use href="#aO" transform="translate(633.90 694.40) scale(10.20)"/>
<text x="616.40" y="708.60" font-size="13.5" fill="#fff" text-anchor="middle" stroke="#fff" stroke-width="0.2">C</text>
<text x="634.40" y="699.40" font-size="13.5" fill="#fff" text-anchor="middle" stroke="#fff" stroke-width="0.2">O</text>
<text x="601.9" y="673.7" font-size="14" stroke="#1a1a1a" stroke-width=".25" fill="#1a1a1a">CO<tspan dy="3" font-size="8.5">2</tspan></text>
<use href="#aHy" transform="translate(879.00 686.30) scale(6.30)"/>
<use href="#aHy" transform="translate(851.60 711.90) scale(6.30)"/>
<use href="#aHy" transform="translate(879.70 718.10) scale(6.30)"/>
<use href="#aCb" transform="translate(869.70 704.10) scale(14.70)"/>
<use href="#aHy" transform="translate(873.40 705.60) scale(7.00)"/>
<text x="856.3" y="673.7" font-size="14" stroke="#1a1a1a" stroke-width=".25" fill="#1a1a1a">CH<tspan dy="3" font-size="8.5">4</tspan></text>
<text x="887.50" y="690.00" font-size="14" fill="#1a1a1a" stroke="#1a1a1a" stroke-width="0.25">H</text>
<text x="929.40" y="690.50" font-size="13.5" fill="#1a1a1a" text-anchor="middle" stroke="#1a1a1a" stroke-width="0.25">+</text>
<use href="#aHy" transform="translate(994.70 686.30) scale(6.50)"/>
<use href="#aHy" transform="translate(966.60 693.80) scale(6.50)"/>
<use href="#aHy" transform="translate(984.40 741.60) scale(6.50)"/>
<use href="#aHy" transform="translate(1012.50 740.00) scale(6.50)"/>
<use href="#aCb" transform="translate(985.00 703.40) scale(14.70)"/>
<use href="#aCb" transform="translate(997.50 728.40) scale(14.70)"/>
<text x="963.1" y="673.7" font-size="14" stroke="#1a1a1a" stroke-width=".25" fill="#1a1a1a">C<tspan dy="3" font-size="8.5">2</tspan><tspan dy="-3">H</tspan><tspan dy="3" font-size="8.5">4</tspan></text>
<path d="M621.7 728.1 A121.25 96.9 0 0 0 863.34 739.6" fill="none" stroke="#3D4D6E" stroke-width="4"/>
<path d="M864.2 728.1 L856.1 743.5 L863.2 740.6 L869.6 744.6 Z" fill="#3D4D6E" stroke="none" stroke-width="1.0"/>
<rect x="939.40" y="796.25" width="59.35" height="113.15" fill="none" stroke="#333" stroke-width="1"/>
<use href="#aAg" transform="translate(955.10 810.90) scale(8.75)"/>
<text x="968.75" y="815.10" font-size="14" fill="#1a1a1a" stroke="#1a1a1a" stroke-width="0.25">Ag</text>
<use href="#aAu" transform="translate(955.10 831.25) scale(8.75)"/>
<text x="968.75" y="835.45" font-size="14" fill="#1a1a1a" stroke="#1a1a1a" stroke-width="0.25">Au</text>
<use href="#aPd" transform="translate(955.10 852.50) scale(8.75)"/>
<text x="968.75" y="856.70" font-size="14" fill="#1a1a1a" stroke="#1a1a1a" stroke-width="0.25">Pd</text>
<use href="#aPt" transform="translate(955.10 874.40) scale(8.75)"/>
<text x="968.75" y="878.60" font-size="14" fill="#1a1a1a" stroke="#1a1a1a" stroke-width="0.25">Pt</text>
<use href="#aCu" transform="translate(955.10 895.60) scale(8.75)"/>
<text x="968.75" y="899.80" font-size="14" fill="#1a1a1a" stroke="#1a1a1a" stroke-width="0.25">Cu</text>
</g>
</svg>
</body></html>
